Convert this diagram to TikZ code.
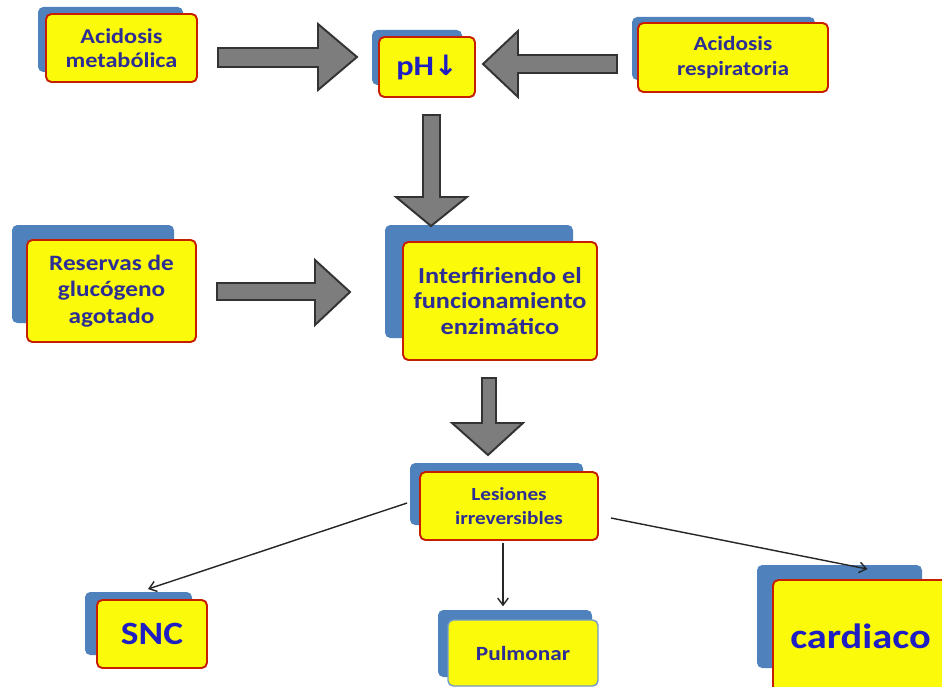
\documentclass[tikz,border=0pt]{standalone}
\usepackage{fontspec}
\setsansfont{Carlito}[FakeStretch=1.15]
\newfontfamily\arrowfont{DejaVu Sans}
\usetikzlibrary{arrows.meta,calc}

\definecolor{boxyellow}{RGB}{250,250,10}
\definecolor{boxred}{RGB}{200,30,0}
\definecolor{backblue}{RGB}{79,129,189}
\definecolor{textblue}{RGB}{45,45,150}
\definecolor{brightblue}{RGB}{30,30,195}
\definecolor{arrowgray}{RGB}{125,125,125}

\begin{document}
\begin{tikzpicture}[x=0.02cm,y=-0.02cm,>={Straight Barb[length=4pt,width=6pt]},
    frontbox/.style={draw=boxred,fill=boxyellow,line width=1.1pt,rounded corners=3pt,
        text=textblue,align=center,inner sep=0pt},
    fs/.style 2 args={font=\sffamily\bfseries\fontsize{#1}{#2}\selectfont},
    backbox/.style={fill=backblue,rounded corners=3pt},
    fatarrow/.style={draw=black!80,fill=arrowgray,line width=1.1pt,line join=miter},
    thinarrow/.style={->,line width=0.8pt,black!85}]
        \useasboundingbox[fill=white] (0,0) rectangle (942,686);

        % blue boxes behind
        \fill [backbox] (38,7) rectangle (183,72);
        \fill [backbox] (372,30) rectangle (462,85);
        \fill [backbox] (632,17) rectangle (815,80);
        \fill [backbox] (12,225) rectangle (174,323);
        \fill [backbox] (385,225) rectangle (573,338);
        \fill [backbox] (410,463) rectangle (583,525);
        \fill [backbox] (85,592) rectangle (192,655);
        \fill [backbox] (438,610) rectangle (592,677);
        \fill [backbox] (757,565) rectangle (922,668);

        \node [frontbox,fs={12}{14},minimum width=3.02cm,minimum height=1.36cm] (metab)
            at (121.5,48) {Acidosis\\metabólica};
        \node [frontbox,fs={16}{18},minimum width=1.92cm,minimum height=1.2cm,text=brightblue] (ph)
            at (427,67) {pH{\arrowfont\bfseries ↓}};
        \node [frontbox,fs={11.5}{14},minimum width=3.8cm,minimum height=1.38cm] (resp)
            at (733,57.5) {Acidosis\\respiratoria};
        \node [frontbox,fs={12.5}{15},minimum width=3.38cm,minimum height=2.04cm] (reserv)
            at (111.5,291) {Reservas de\\glucógeno\\agotado};
        \node [frontbox,fs={13}{14.5},minimum width=3.88cm,minimum height=2.36cm] (interf)
            at (500,301) {Interfiriendo el\\funcionamiento\\enzimático};
        \node [frontbox,fs={10.5}{14},minimum width=3.56cm,minimum height=1.36cm] (les)
            at (509,506) {Lesiones\\irreversibles};
        \node [frontbox,fs={18.5}{20},minimum width=2.2cm,minimum height=1.36cm,text=brightblue] (snc)
            at (152,634) {SNC};
        \node [frontbox,fs={11.5}{14},minimum width=3cm,minimum height=1.32cm,
            draw=backblue!80,line width=0.8pt] (pul)
            at (523,653) {Pulmonar};
        \node [frontbox,fs={20}{22},minimum width=3.5cm,minimum height=2.24cm,text=brightblue] (card)
            at (860.5,636) {cardiaco};

        % block arrows
        \draw [fatarrow] (218,48) -- (318,48) -- (318,24) -- (357,57)
            -- (318,90) -- (318,67) -- (218,67) -- cycle;
        \draw [fatarrow] (617,55) -- (518,55) -- (518,31) -- (483,64)
            -- (518,97) -- (518,73) -- (617,73) -- cycle;
        \draw [fatarrow] (423,115) -- (440,115) -- (440,197) -- (467,197)
            -- (431,226) -- (396,197) -- (423,197) -- cycle;
        \draw [fatarrow] (217,283) -- (315,283) -- (315,260) -- (350,292)
            -- (315,325) -- (315,300) -- (217,300) -- cycle;
        \draw [fatarrow] (482,378) -- (496,378) -- (496,423) -- (523,423)
            -- (488,455) -- (452,423) -- (482,423) -- cycle;

        % thin arrows
        \draw [thinarrow] ($(les.west)+(-12,-3)$) -- ($(snc.north)+(-4,-10)$);
        \draw [thinarrow] ($(les.south)+(-6,2)$) -- ($(pul.north)+(-20,-13)$);
        \draw [thinarrow] ($(les.east)+(12,12)$) -- ($(card.north)+(7,-10)$);
    \end{tikzpicture}
\end{document}
